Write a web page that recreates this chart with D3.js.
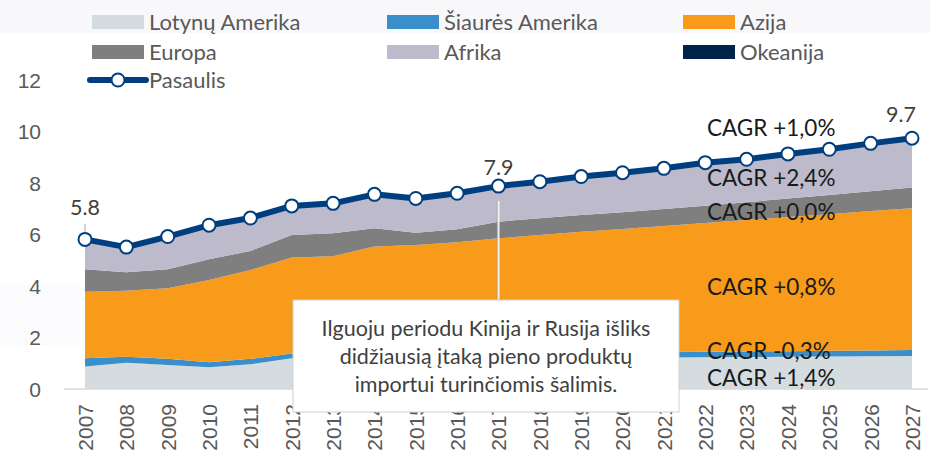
<!DOCTYPE html>
<html>
<head>
<meta charset="utf-8">
<script src="https://cdn.jsdelivr.net/npm/d3@7"></script>
<style>
    body { margin: 0; background: #fff; }
    svg { font-family: Lato, "Open Sans", sans-serif; }
    .axis text { fill: #595959; font-size: 21px; }
    .legend text { fill: #595959; font-size: 22px; }
    .cagr { fill: #1a1a1a; font-size: 22.5px; }
    .value { fill: #404040; font-size: 21.5px; }
    .note { fill: #404040; font-size: 21.5px; }
</style>
</head>
<body>
<div id="chart"></div>
<script>
// years on the x axis
var years = d3.range(2007, 2028);

// mln t per region
var lotynuAmerika = [0.87, 1.02, 0.93, 0.84, 0.96, 1.19, 1.18, 1.20, 1.17, 1.19, 1.21, 1.20, 1.22, 1.21, 1.22, 1.23, 1.24, 1.25, 1.26, 1.27, 1.28];
var siauresAmerika = [0.32, 0.23, 0.24, 0.20, 0.21, 0.19, 0.22, 0.22, 0.22, 0.22, 0.22, 0.22, 0.22, 0.22, 0.22, 0.22, 0.22, 0.22, 0.23, 0.23, 0.23];
var azija = [2.59, 2.57, 2.74, 3.19, 3.45, 3.73, 3.76, 4.11, 4.20, 4.29, 4.42, 4.56, 4.67, 4.78, 4.89, 5.00, 5.10, 5.21, 5.30, 5.41, 5.51];
var europa = [0.87, 0.71, 0.74, 0.81, 0.74, 0.87, 0.89, 0.71, 0.48, 0.50, 0.65, 0.65, 0.65, 0.65, 0.66, 0.67, 0.69, 0.72, 0.74, 0.77, 0.81];
var afrika = [1.13, 0.95, 1.24, 1.29, 1.25, 1.10, 1.13, 1.29, 1.30, 1.37, 1.35, 1.39, 1.46, 1.51, 1.55, 1.64, 1.64, 1.70, 1.75, 1.83, 1.88];
var okeanija = [0.03, 0.03, 0.03, 0.03, 0.03, 0.03, 0.03, 0.03, 0.03, 0.03, 0.03, 0.03, 0.03, 0.03, 0.03, 0.03, 0.03, 0.03, 0.03, 0.03, 0.03];
var pasaulis = [5.81, 5.51, 5.92, 6.36, 6.64, 7.11, 7.21, 7.56, 7.40, 7.60, 7.88, 8.05, 8.25, 8.40, 8.57, 8.79, 8.92, 9.13, 9.31, 9.54, 9.74];

var seriesNames = ["Lotynų Amerika", "Šiaurės Amerika", "Azija", "Europa", "Afrika", "Okeanija"];
var seriesColors = ["#d5dcdf", "#3a8fca", "#f89a1a", "#7f7f7f", "#bcbacb", "#00234a"];
var yTicks = [0, 2, 4, 6, 8, 10, 12];

// labelled points on the world line
var labelYears = [2007, 2017, 2027];
var labelTexts = ["5.8", "7.9", "9.7"];

// CAGR notes (right side), from top to bottom
var cagrLabels = ["CAGR +1,0%", "CAGR +2,4%", "CAGR +0,0%", "CAGR +0,8%", "CAGR -0,3%", "CAGR +1,4%"];

var noteLines = ["Ilguoju periodu Kinija ir Rusija išliks", "didžiausią įtaką pieno produktų", "importui turinčiomis šalimis."];

var width = 930, height = 457,
    margin = {top: 80, left: 85, bottom: 68, right: 18};

var svg = d3.select("#chart").append("svg")
    .attr("width", width)
    .attr("height", height);

// faint background leftovers
svg.append("rect").attr("x", 0).attr("y", 0).attr("width", width).attr("height", 33).attr("fill", "#f8f8fb");
svg.append("rect").attr("x", 0).attr("y", 285).attr("width", 80).attr("height", 60).attr("fill", "#fbfbfd");

var x = d3.scalePoint().domain(years).range([margin.left, width - margin.right]);
var y = d3.scaleLinear().domain([0, 12]).range([height - margin.bottom, margin.top]);

var table = years.map(function (yr, i) {
    return {
        year: yr,
        "Lotynų Amerika": lotynuAmerika[i],
        "Šiaurės Amerika": siauresAmerika[i],
        "Azija": azija[i],
        "Europa": europa[i],
        "Afrika": afrika[i],
        "Okeanija": okeanija[i]
    };
});

var stacked = d3.stack().keys(seriesNames)(table);

var area = d3.area()
    .x(function (d) { return x(d.data.year); })
    .y0(function (d) { return y(d[0]); })
    .y1(function (d) { return y(d[1]); });

svg.append("g").selectAll("path")
    .data(stacked)
    .enter().append("path")
    .attr("d", area)
    .attr("fill", function (d, i) { return seriesColors[i]; });

// baseline
svg.append("line")
    .attr("x1", 64).attr("x2", 928)
    .attr("y1", y(0)).attr("y2", y(0))
    .attr("stroke", "#d9d9d9").attr("stroke-width", 1.5);

// y axis
var yAxis = d3.axisLeft(y).tickValues(yTicks).tickSize(0).tickPadding(0);
var yG = svg.append("g").attr("class", "axis")
    .attr("transform", "translate(41,0)")
    .call(yAxis);
yG.select(".domain").remove();
yG.selectAll("text").attr("dy", "0.35em");

// x axis, rotated labels
var xAxis = d3.axisBottom(x).tickSize(0).tickPadding(0);
var xG = svg.append("g").attr("class", "axis")
    .attr("transform", "translate(0," + (y(0) + 15) + ")")
    .call(xAxis);
xG.select(".domain").remove();
xG.selectAll("text")
    .attr("text-anchor", "end")
    .attr("y", 0)
    .attr("dy", "0.35em")
    .attr("transform", "rotate(-90)");

// leader lines of the value labels
svg.append("line")
    .attr("x1", x(2007)).attr("x2", x(2007))
    .attr("y1", 224).attr("y2", y(pasaulis[0]))
    .attr("stroke", "#a6a6a6").attr("stroke-width", 1);
svg.append("line")
    .attr("x1", x(2017)).attr("x2", x(2017))
    .attr("y1", 201).attr("y2", 300)
    .attr("stroke", "#f2f2f2").attr("stroke-width", 2);
svg.append("line")
    .attr("x1", x(2017) - 1.5).attr("x2", x(2017) - 1.5)
    .attr("y1", 201).attr("y2", 300)
    .attr("stroke", "#9a9a9a").attr("stroke-width", 0.8).attr("opacity", 0.6);

// world line
var line = d3.line()
    .x(function (d, i) { return x(years[i]); })
    .y(function (d) { return y(d); });

svg.append("path")
    .attr("d", line(pasaulis))
    .attr("fill", "none")
    .attr("stroke", "#003f7f")
    .attr("stroke-width", 6)
    .attr("stroke-linejoin", "round");

svg.append("g").selectAll("circle")
    .data(pasaulis)
    .enter().append("circle")
    .attr("cx", function (d, i) { return x(years[i]); })
    .attr("cy", function (d) { return y(d); })
    .attr("r", 6.5)
    .attr("fill", "#fff")
    .attr("stroke", "#003f7f")
    .attr("stroke-width", 2);

// value labels (offsets above the point differ per label)
var labelLift = [24, 11, 16],
    labelShift = [0, 0, -11];
svg.append("g").selectAll("text")
    .data(labelYears)
    .enter().append("text")
    .attr("class", "value")
    .attr("x", function (d, i) { return x(d) + labelShift[i]; })
    .attr("y", function (d, i) { return y(pasaulis[years.indexOf(d)]) - labelLift[i]; })
    .attr("text-anchor", "middle")
    .text(function (d, i) { return labelTexts[i]; });

// CAGR labels
var cagrY = [136, 186, 220, 295, 359, 386];
svg.append("g").selectAll("text")
    .data(cagrLabels)
    .enter().append("text")
    .attr("class", "cagr")
    .attr("x", 707)
    .attr("y", function (d, i) { return cagrY[i]; })
    .text(function (d) { return d; });

// note box
var note = svg.append("g");
note.append("rect")
    .attr("x", 293).attr("y", 300)
    .attr("width", 386).attr("height", 112)
    .attr("fill", "#fff")
    .attr("stroke", "#d0d0d0");
note.selectAll("text")
    .data(noteLines)
    .enter().append("text")
    .attr("class", "note")
    .attr("x", 486)
    .attr("y", function (d, i) { return 336 + i * 28; })
    .attr("text-anchor", "middle")
    .text(function (d) { return d; });

// legend
var legendItems = [
    {name: "Lotynų Amerika", color: seriesColors[0], x: 92, y: 22},
    {name: "Šiaurės Amerika", color: seriesColors[1], x: 387, y: 22},
    {name: "Azija", color: seriesColors[2], x: 683, y: 22},
    {name: "Europa", color: seriesColors[3], x: 92, y: 52},
    {name: "Afrika", color: seriesColors[4], x: 387, y: 52},
    {name: "Okeanija", color: seriesColors[5], x: 683, y: 52}
];

var legend = svg.append("g").attr("class", "legend");
var li = legend.selectAll("g")
    .data(legendItems)
    .enter().append("g")
    .attr("transform", function (d) { return "translate(" + d.x + "," + d.y + ")"; });
li.append("rect")
    .attr("x", 0).attr("y", -7)
    .attr("width", 52).attr("height", 14)
    .attr("fill", function (d) { return d.color; });
li.append("text")
    .attr("x", 57).attr("dy", "0.35em")
    .text(function (d) { return d.name; });

var lw = legend.append("g").attr("transform", "translate(90,80)");
lw.append("line")
    .attr("x1", 0).attr("x2", 56)
    .attr("stroke", "#003f7f").attr("stroke-width", 6)
    .attr("stroke-linecap", "round");
lw.append("circle")
    .attr("cx", 28).attr("r", 6.5)
    .attr("fill", "#fff").attr("stroke", "#003f7f").attr("stroke-width", 2);
lw.append("text")
    .attr("x", 59).attr("dy", "0.35em")
    .text("Pasaulis");
</script>
</body>
</html>
